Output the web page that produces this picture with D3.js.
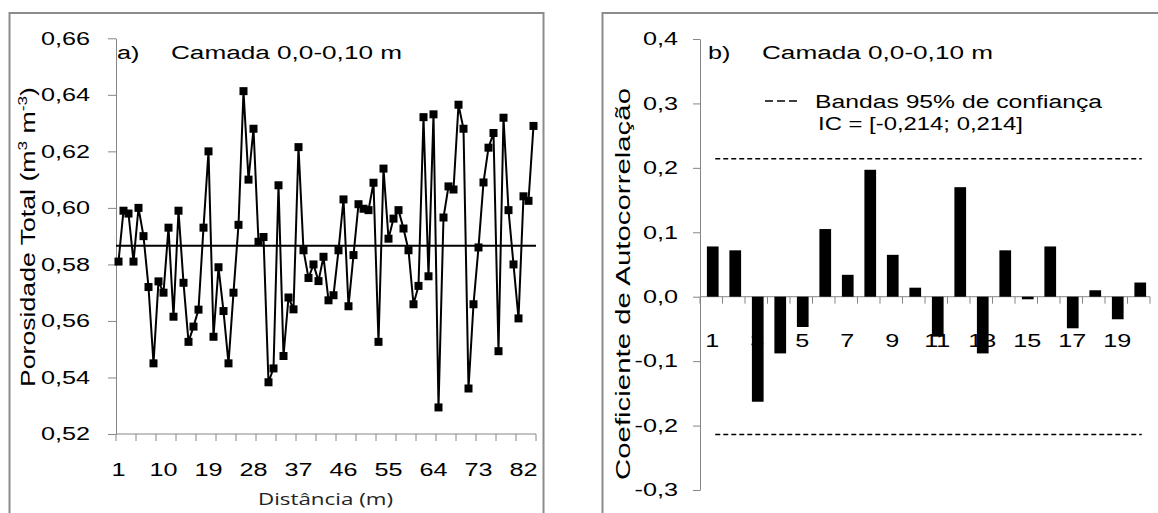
<!DOCTYPE html>
<html>
<head>
<meta charset="utf-8">
<script src="https://cdn.jsdelivr.net/npm/d3@7"></script>
<style>
  body { margin: 0; background: #fff; }
  svg { display: block; font-family: "Liberation Sans", Arial, sans-serif; }
</style>
</head>
<body>
<svg id="chart" width="1158" height="513"></svg>
<script>
// ---- data ----
const distances = d3.range(1, 85);
const porosity = [
  0.581, 0.599, 0.598, 0.581, 0.600, 0.590, 0.572, 0.545, 0.574, 0.570,
  0.593, 0.5615, 0.599, 0.5735, 0.5526, 0.558, 0.564, 0.593, 0.620, 0.5544,
  0.579, 0.5635, 0.545, 0.570, 0.594, 0.6413, 0.610, 0.628, 0.588, 0.5897,
  0.5383, 0.5432, 0.608, 0.5476, 0.5683, 0.5641, 0.6215, 0.585, 0.5752, 0.580,
  0.5741, 0.5827, 0.5673, 0.5691, 0.585, 0.603, 0.5652, 0.5833, 0.6013, 0.5997,
  0.5992, 0.6089, 0.5526, 0.6139, 0.5891, 0.5962, 0.5992, 0.5927, 0.585, 0.5659,
  0.5724, 0.6321, 0.5758, 0.6331, 0.5294, 0.5966, 0.6076, 0.6065, 0.6365, 0.628,
  0.5361, 0.5659, 0.586, 0.609, 0.6213, 0.6265, 0.5493, 0.6319, 0.5992, 0.580,
  0.5609, 0.6041, 0.6025, 0.629
];
const meanPorosity = 0.5866;
const porosityTicks = [0.52, 0.54, 0.56, 0.58, 0.60, 0.62, 0.64, 0.66];
const distanceLabels = [1, 10, 19, 28, 37, 46, 55, 64, 73, 82];

const lags = d3.range(1, 21);
const autocorr = [
  0.078, 0.072, -0.163, -0.088, -0.047, 0.105, 0.034, 0.197, 0.065, 0.014,
  -0.062, 0.170, -0.088, 0.072, -0.004, 0.078, -0.049, 0.010, -0.035, 0.022
];
const acfTicks = [-0.3, -0.2, -0.1, 0.0, 0.1, 0.2, 0.3, 0.4];
const lagLabels = [1, 3, 5, 7, 9, 11, 13, 15, 17, 19];
const confidence = 0.214;

// ---- helpers ----
const locale = d3.formatLocale({decimal: ",", thousands: ".", grouping: [3], currency: ["", ""], minus: "-"});
const fmt2 = locale.format(".2f");
const fmt1 = locale.format(".1f");
const axisGrey = "#868686";

// the reference font renders wider than Arial, so stretch each text along its run
function widen(sel, k) {
  sel.each(function() {
    const w = this.getComputedTextLength();
    d3.select(this).attr("textLength", w * k).attr("lengthAdjust", "spacingAndGlyphs");
  });
}

const svg = d3.select("#chart");

// panel frames
svg.append("rect").attr("x", 9.5).attr("y", 13).attr("width", 534).attr("height", 520)
  .attr("fill", "none").attr("stroke", "#8c8c8c").attr("stroke-width", 2);
svg.append("rect").attr("x", 602.5).attr("y", 13).attr("width", 600).attr("height", 520)
  .attr("fill", "none").attr("stroke", "#8c8c8c").attr("stroke-width", 2);

// ================= a) porosity series =================
const gA = svg.append("g");
const xA = d3.scaleBand().domain(distances).range([116, 536]);
const yA = d3.scaleLinear().domain([0.52, 0.66]).range([434, 38.3]);

const axA = gA.append("g").attr("transform", "translate(116,0)")
  .call(d3.axisLeft(yA).tickValues(porosityTicks).tickFormat(fmt2).tickSize(8).tickSizeOuter(0).tickPadding(18));
axA.select(".domain").attr("stroke", axisGrey);
axA.selectAll(".tick line").attr("stroke", axisGrey);
axA.selectAll(".tick text").attr("font-size", 18).attr("fill", "#000").call(widen, 1.4);

// category axis
gA.append("line").attr("x1", 116).attr("x2", 536).attr("y1", yA(0.52)).attr("y2", yA(0.52)).attr("stroke", axisGrey);
const tickPosA = distances.filter((d, i) => i % 4 === 0).map(d => xA(d)).concat([xA.range()[1]]);
gA.selectAll(".xtick").data(tickPosA).join("line").attr("class", "xtick")
  .attr("x1", d => d).attr("x2", d => d).attr("y1", yA(0.52)).attr("y2", yA(0.52) + 7)
  .attr("stroke", axisGrey);
gA.selectAll(".xlab").data(distanceLabels).join("text").attr("class", "xlab")
  .attr("x", d => xA(d) + xA.bandwidth() / 2).attr("y", 476)
  .attr("text-anchor", "middle").attr("font-size", 18).text(d => d)
  .call(widen, 1.4);

// mean line
gA.append("line").attr("x1", 116).attr("x2", 536).attr("y1", yA(meanPorosity)).attr("y2", yA(meanPorosity))
  .attr("stroke", "#000").attr("stroke-width", 2);

// series
const line = d3.line().x((d, i) => xA(distances[i]) + xA.bandwidth() / 2).y(d => yA(d));
gA.append("path").datum(porosity).attr("d", line).attr("fill", "none").attr("stroke", "#000").attr("stroke-width", 2);
gA.selectAll(".pt").data(porosity).join("rect").attr("class", "pt")
  .attr("x", (d, i) => xA(distances[i]) + xA.bandwidth() / 2 - 4).attr("y", d => yA(d) - 4)
  .attr("width", 8).attr("height", 8).attr("fill", "#000");

// titles
gA.append("text").attr("x", 117).attr("y", 59).attr("font-size", 18).text("a)").call(widen, 1.4);
gA.append("text").attr("x", 171).attr("y", 59).attr("font-size", 18).text("Camada 0,0-0,10 m")
  .attr("textLength", 231).attr("lengthAdjust", "spacingAndGlyphs");
gA.append("text").attr("x", 258).attr("y", 505).attr("font-size", 17).attr("fill", "#222")
  .attr("font-family", "'Open Sans', sans-serif").text("Distância (m)")
  .attr("textLength", 135).attr("lengthAdjust", "spacingAndGlyphs");
const yTitleA = gA.append("text").attr("transform", "translate(35,387) rotate(-90)")
  .attr("font-size", 20).attr("textLength", 300).attr("lengthAdjust", "spacingAndGlyphs");
yTitleA.append("tspan").text("Porosidade Total (m");
yTitleA.append("tspan").attr("dy", -8).attr("font-size", 13).text("3");
yTitleA.append("tspan").attr("dy", 8).text(" m");
yTitleA.append("tspan").attr("dy", -8).attr("font-size", 13).text("-3");
yTitleA.append("tspan").attr("dy", 8).text(")");

// ================= b) autocorrelation =================
const gB = svg.append("g");
const xB = d3.scaleBand().domain(lags).range([700, 1150]);
const yB = d3.scaleLinear().domain([-0.3, 0.4]).range([490, 39]);

const axB = gB.append("g").attr("transform", "translate(700,0)")
  .call(d3.axisLeft(yB).tickValues(acfTicks).tickFormat(fmt1).tickSize(7).tickSizeOuter(0).tickPadding(15));
axB.select(".domain").attr("stroke", axisGrey);
axB.selectAll(".tick line").attr("stroke", axisGrey);
axB.selectAll(".tick text").attr("font-size", 18).attr("fill", "#000").call(widen, 1.4);

gB.append("line").attr("x1", 700).attr("x2", 1150).attr("y1", yB(0)).attr("y2", yB(0)).attr("stroke", axisGrey);
const tickPosB = lags.map(d => xB(d)).concat([xB.range()[1]]);
gB.selectAll(".xtick").data(tickPosB).join("line").attr("class", "xtick")
  .attr("x1", d => d).attr("x2", d => d).attr("y1", yB(0)).attr("y2", yB(0) + 7)
  .attr("stroke", axisGrey);
gB.selectAll(".xlab").data(lagLabels).join("text").attr("class", "xlab")
  .attr("x", d => xB(d) + xB.bandwidth() / 2 + 1).attr("y", 347)
  .attr("text-anchor", "middle").attr("font-size", 18).text(d => d)
  .call(widen, 1.4);

// bars drawn over the lag labels, as in the reference
const barW = xB.bandwidth() * 0.52;
gB.selectAll(".bar").data(autocorr).join("rect").attr("class", "bar")
  .attr("x", (d, i) => xB(lags[i]) + xB.bandwidth() / 2 - barW / 2 + 1.5)
  .attr("y", d => yB(Math.max(0, d)))
  .attr("width", barW)
  .attr("height", d => Math.abs(yB(d) - yB(0)))
  .attr("fill", "#000");

// confidence bands
[confidence, -confidence].forEach(c => {
  gB.append("line")
    .attr("x1", xB(lags[0]) + xB.bandwidth() / 2 + 4).attr("x2", xB(lags[lags.length - 1]) + xB.bandwidth() / 2 + 3)
    .attr("y1", yB(c)).attr("y2", yB(c))
    .attr("stroke", "#000").attr("stroke-width", 1.5).attr("stroke-dasharray", "5,3");
});

// legend
gB.append("line").attr("x1", 765).attr("x2", 797).attr("y1", 101).attr("y2", 101)
  .attr("stroke", "#000").attr("stroke-width", 1.5).attr("stroke-dasharray", "8,4");
gB.append("text").attr("x", 815).attr("y", 108).attr("font-size", 18).text("Bandas 95% de confiança")
  .attr("textLength", 287).attr("lengthAdjust", "spacingAndGlyphs");
gB.append("text").attr("x", 818).attr("y", 130).attr("font-size", 18).text("IC = [-0,214; 0,214]")
  .attr("textLength", 205).attr("lengthAdjust", "spacingAndGlyphs");

// titles
gB.append("text").attr("x", 708).attr("y", 59).attr("font-size", 18).text("b)").call(widen, 1.4);
gB.append("text").attr("x", 762).attr("y", 59).attr("font-size", 18).text("Camada 0,0-0,10 m")
  .attr("textLength", 231).attr("lengthAdjust", "spacingAndGlyphs");
gB.append("text").attr("transform", "translate(630,480) rotate(-90)")
  .attr("font-size", 21).text("Coeficiente de Autocorrelação")
  .attr("textLength", 392).attr("lengthAdjust", "spacingAndGlyphs");
</script>
</body>
</html>
